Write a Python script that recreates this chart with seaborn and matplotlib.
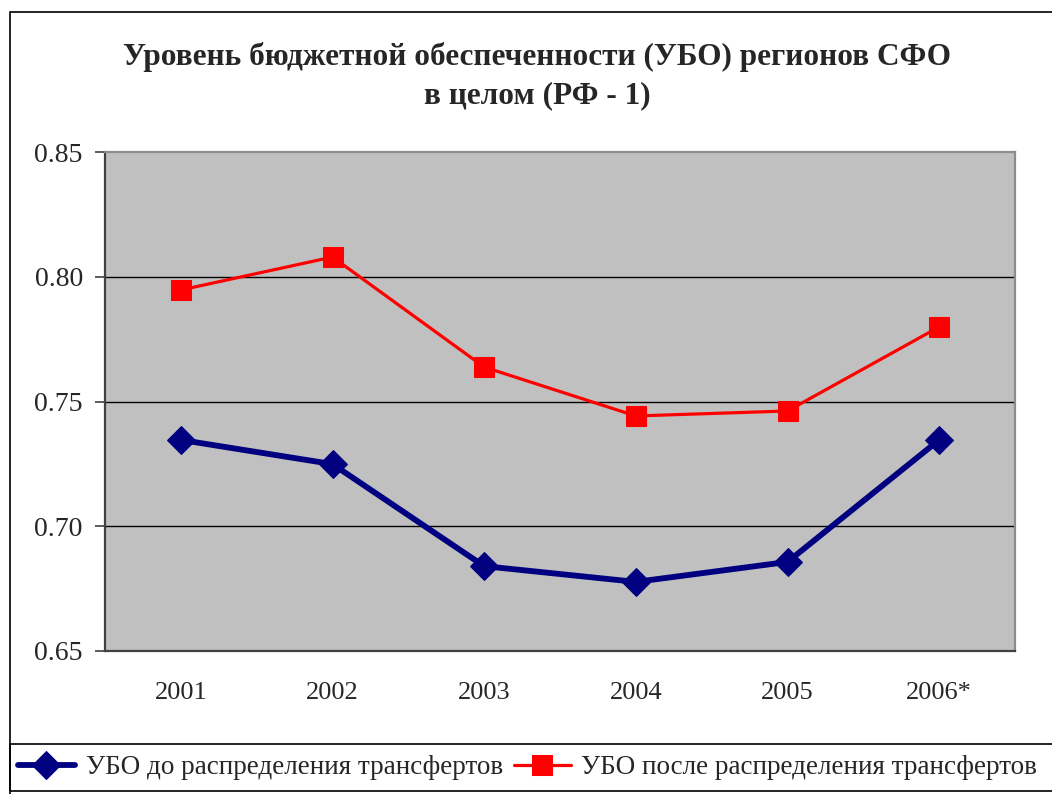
import matplotlib
matplotlib.use("Agg")
import matplotlib.pyplot as plt
from matplotlib.patches import Rectangle
import seaborn as sns
import pandas as pd

# data
years = ["2001", "2002", "2003", "2004", "2005", "2006*"]
before = [0.7346, 0.7249, 0.6840, 0.6777, 0.6857, 0.7346]
after = [0.7947, 0.8079, 0.7638, 0.7442, 0.7462, 0.7799]
label_before = "УБО до распределения трансфертов"
label_after = "УБО после распределения трансфертов"
title = "Уровень бюджетной обеспеченности (УБО) регионов СФО\nв целом (РФ - 1)"
yticks = [0.65, 0.70, 0.75, 0.80, 0.85]

df = pd.DataFrame({"x": range(len(years)), "before": before, "after": after})

sns.set_theme(style="white")
plt.rcParams["font.family"] = ["Liberation Serif", "DejaVu Serif"]

W, H = 1052, 794
fig = plt.figure(figsize=(W / 100, H / 100), dpi=100)
fig.patch.set_facecolor("white")
ax = fig.add_axes([105 / W, 1 - 651 / H, (1015 - 105) / W, (651 - 152) / H])
ax.set_facecolor("#C0C0C0")

sns.lineplot(data=df, x="x", y="before", ax=ax, color="#000080", linewidth=4.2,
             marker="D", markersize=14, markeredgecolor="#000080", label=label_before)
sns.lineplot(data=df, x="x", y="after", ax=ax, color="#FF0000", linewidth=2.3,
             marker="s", markersize=14, markeredgecolor="#FF0000", label=label_after)
handles, labels = ax.get_legend_handles_labels()
ax.get_legend().remove()

ax.set_xlim(-0.5, len(years) - 0.5)
ax.set_ylim(0.65, 0.85)
ax.set_yticks(yticks)
ax.set_yticklabels([f"{v:.2f}" for v in yticks], fontsize=20)
ax.set_xticks(range(len(years)))
ax.set_xticklabels(years, fontsize=19)
ax.set_xticks([i - 0.5 for i in range(len(years) + 1)], minor=True)
ax.tick_params(axis="x", which="major", length=0, pad=22)
ax.tick_params(axis="x", which="minor", direction="out", length=7, width=1.2, color="#404040")
ax.tick_params(axis="y", direction="out", length=7, width=1.2, color="#404040", pad=9, left=True)
ax.set_xlabel("")
ax.set_ylabel("")
for v in yticks[1:-1]:
    ax.axhline(v, color="black", linewidth=1, zorder=0.5)

ax.spines["left"].set_color("#404040")
ax.spines["bottom"].set_color("#404040")
ax.spines["top"].set_color("#8C8C8C")
ax.spines["right"].set_color("#8C8C8C")
for s in ax.spines.values():
    s.set_linewidth(1.6)
    s.set_visible(True)

fig.text(537 / W, 1 - 76 / H, title, ha="center", va="center", fontsize=22.5,
         fontweight="bold", linespacing=1.45)

# chart frame and legend box
fig.patches.append(Rectangle((10 / W, -0.1), 1.2, 1 - 12 / H + 0.1, transform=fig.transFigure,
                             fill=False, edgecolor="black", linewidth=1.2))
fig.patches.append(Rectangle((10 / W, 1 - 791 / H), 1.2, (791 - 744) / H, transform=fig.transFigure,
                             fill=False, edgecolor="black", linewidth=1.2))

fig.legend(handles, labels, loc="center left", bbox_to_anchor=(18 / W, 1 - 768 / H),
           ncol=2, frameon=False, fontsize=19.5, handlelength=2.1, handletextpad=0.4,
           columnspacing=0.4, borderaxespad=0, borderpad=0)

fig.savefig("out.png", dpi=100)
